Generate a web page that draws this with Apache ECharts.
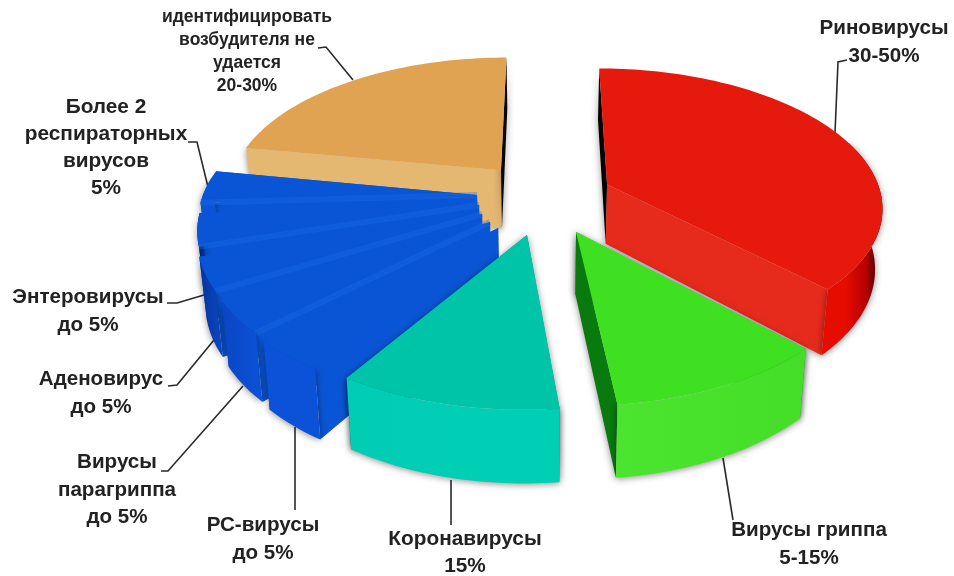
<!DOCTYPE html>
<html>
<head>
<meta charset="utf-8">
<script src="https://cdn.jsdelivr.net/npm/echarts@6/dist/echarts.min.js"></script>
<style>
html, body { margin: 0; background: #fff; }
#chart { width: 954px; height: 576px; }
</style>
</head>
<body>
<div id="chart"></div>
<script>
// доли секторов по часовой стрелке от 12 часов
const sliceNames = ['Риновирусы', 'Вирусы гриппа', 'Коронавирусы', 'РС-вирусы', 'Вирусы парагриппа', 'Аденовирус', 'Энтеровирусы', 'Более 2 респираторных вирусов', 'идентифицировать возбудителя не удается']
const sliceShares = [37.5, 10.8, 10.8, 3.75, 3.75, 3.75, 3.75, 3.75, 22.15]

// смещение секторов от центра, в единицах радиуса (вправо, вглубь)
const explodeU = [0.229, 0.109, -0.063, -0.165, -0.195, -0.225, -0.238, -0.248, -0.165]
const explodeV = [0.221, -0.118, -0.138, -0.09, -0.049, 0.007, 0.071, 0.144, 0.33]

// порядок отрисовки: от дальних к ближним
const drawOrder = [8, 7, 6, 5, 4, 3, 0, 2, 1]

const blueTop = '#0a55d6'
const topColors = ['#e5190c', '#3fe022', '#00c4a8', blueTop, blueTop, blueTop, blueTop, blueTop, '#e0a351']
const startWallColors = ['#0a0202', '#2fbf18', '#00b89e', blueTop, blueTop, blueTop, blueTop, blueTop, '#e4b871']
const endWallColors = ['#e62a1c', '#087a0e', '#00a88f', blueTop, blueTop, blueTop, blueTop, blueTop, '#0a0500']
const rimStops = [
  [[0, '#e60c00'], [0.4, '#e60c00'], [0.72, '#b80000'], [1, '#200000']],
  [[0, '#4be52f'], [1, '#44de28']],
  [[0, '#00cdb4'], [1, '#00cfb6']],
  [[0, '#0b52d8'], [1, '#0b52d8']],
  [[0, '#0a46c4'], [1, '#0b52d8']],
  [[0, '#06329a'], [1, '#0a48c8']],
  [[0, '#021f6a'], [1, '#0535a0']],
  [[0, blueTop], [1, blueTop]],
  [[0, '#e4b871'], [1, '#e4b871']]
]

// подписи и выноски
const labelTexts = [
  'Риновирусы\n30-50%',
  'идентифицировать\nвозбудителя не\nудается\n20-30%',
  'Более 2\nреспираторных\nвирусов\n5%',
  'Энтеровирусы\nдо 5%',
  'Аденовирус\nдо 5%',
  'Вирусы\nпарагриппа\nдо 5%',
  'РС-вирусы\nдо 5%',
  'Коронавирусы\n15%',
  'Вирусы гриппа\n5-15%'
]
const labelX = [884, 247, 106, 88, 101, 117, 263, 465, 809]
const labelTop = [14, 6, 94, 283, 365, 449, 511, 526, 516]
const labelSize = [20.6, 17.5, 20.8, 20.6, 20.6, 20.6, 20.6, 20.8, 20.6]
const labelLead = [28, 23, 27, 28, 28, 27.5, 28, 27, 28]
const leaders = [
  [[847, 60], [838, 62], [835, 133]],
  [[318, 48], [326, 47], [353, 80]],
  [[188, 142], [197, 142], [208, 187]],
  [[167, 303], [177, 303], [204, 295]],
  [[168, 386], [177, 385], [214, 340]],
  [[161, 471], [168, 471], [243, 386]],
  [[295, 427], [295, 510]],
  [[451, 480], [451, 525]],
  [[723, 458], [733, 520]]
]

// параметры проекции
const cx = 545, cy = 215, scaleX = 280, scaleY = 142, persp = 0.15, wallH = 61, wallShrink = 0.978
const total = sliceShares.reduce((a, b) => a + b, 0)
// боковая стенка видна только на ближней части дуги
const rimFrom = 70 * Math.PI / 180, rimTo = 278 * Math.PI / 180

const project = (u, v) => {
  const w = 1 + persp * v
  return [cx + scaleX * u / w, cy - scaleY * v / w, w]
}
const topPoint = (u, v) => {
  const p = project(u, v)
  return [p[0], p[1]]
}
const bottomPoint = (u, v) => {
  const p = project(u, v)
  return [cx + (p[0] - cx) * wallShrink, p[1] + wallH / p[2]]
}

const chart = echarts.init(document.getElementById('chart'))

const renderSlice = (params, api) => {
  const i = api.value(0)
  const share = api.value(1)
  const before = api.value(2)
  const a0 = echarts.number.linearMap(before, [0, total], [0, 2 * Math.PI])
  const a1 = echarts.number.linearMap(before + share, [0, total], [0, 2 * Math.PI])
  const u0 = explodeU[i], v0 = explodeV[i]

  const steps = Math.max(6, Math.ceil((a1 - a0) * 40))
  const arcTop = [], arcBottom = [], rimTop = [], rimBottom = []
  for (let k = 0; k <= steps; k++) {
    const a = a0 + (a1 - a0) * k / steps
    const u = u0 + Math.sin(a), v = v0 + Math.cos(a)
    arcTop.push(topPoint(u, v))
    arcBottom.push(bottomPoint(u, v))
    if (a >= rimFrom && a <= rimTo) {
      rimTop.push(topPoint(u, v))
      rimBottom.push(bottomPoint(u, v))
    }
  }
  const apexTop = topPoint(u0, v0)
  const apexBottom = bottomPoint(u0, v0)
  const shadow = { shadowBlur: 7, shadowColor: 'rgba(0,0,0,0.45)', shadowOffsetY: 1 }
  const isBlue = i >= 3 && i <= 7

  const children = [
    {
      type: 'polygon',
      shape: { points: [apexTop, arcTop[0], arcBottom[0], apexBottom] },
      style: Object.assign({ fill: startWallColors[i] }, isBlue ? {} : shadow)
    },
    {
      type: 'polygon',
      shape: { points: [apexTop, arcTop[steps], arcBottom[steps], apexBottom] },
      style: Object.assign({ fill: endWallColors[i] }, isBlue ? {} : shadow)
    }
  ]
  if (rimTop.length > 1) {
    children.push({
      type: 'polygon',
      shape: { points: rimTop.concat(rimBottom.slice().reverse()) },
      style: Object.assign({
        fill: new echarts.graphic.LinearGradient(0, 0, 1, 0, rimStops[i].map(s => ({ offset: s[0], color: s[1] })))
      }, shadow)
    })
  }
  children.push({
    type: 'polygon',
    shape: { points: [apexTop].concat(arcTop) },
    style: { fill: topColors[i] }
  })
  // светлая полоса на стыке синих секторов
  if (i >= 4 && i <= 7) {
    children.push({
      type: 'polyline',
      shape: { points: [apexTop, arcTop[0]] },
      style: { stroke: '#1b6ce6', lineWidth: 6, fill: 'none', opacity: 0.35 }
    })
  }
  return { type: 'group', children }
}

const beforeShares = sliceShares.map((_, i) => sliceShares.slice(0, i).reduce((a, b) => a + b, 0))

const graphics = []
labelTexts.forEach((text, i) => {
  graphics.push({
    type: 'text',
    z: 10,
    x: labelX[i],
    y: labelTop[i],
    style: {
      text,
      fill: '#222',
      align: 'center',
      verticalAlign: 'top',
      font: 'bold ' + labelSize[i] + 'px "Liberation Sans", Arial, sans-serif',
      lineHeight: labelLead[i]
    }
  })
  graphics.push({
    type: 'polyline',
    z: 0,
    shape: { points: leaders[i] },
    style: { stroke: '#2a2a2a', lineWidth: 1.6, fill: 'none' }
  })
})

chart.setOption({
  animation: false,
  backgroundColor: '#fff',
  graphic: graphics,
  series: [{
    type: 'custom',
    coordinateSystem: 'none',
    renderItem: renderSlice,
    silent: true,
    data: drawOrder.map(i => ({ name: sliceNames[i], value: [i, sliceShares[i], beforeShares[i]] }))
  }]
})
</script>
</body>
</html>
